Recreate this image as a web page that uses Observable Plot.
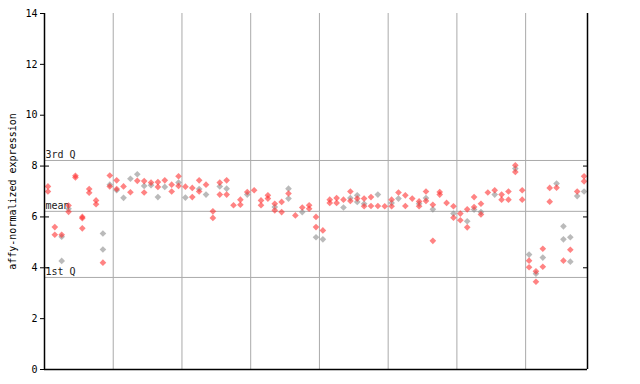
<!DOCTYPE html>
<html>
<head>
<meta charset="utf-8">
<script src="https://cdn.jsdelivr.net/npm/d3@7"></script>
<script src="https://cdn.jsdelivr.net/npm/@observablehq/plot@0.6"></script>
<style>
  html, body { margin: 0; padding: 0; background: #fff; }
  #chart svg { display: block; }
</style>
</head>
<body>
<div id="chart"></div>
<script>
// values per sample column (index = column)
const redValues = [
  [7.2, 7.0], [5.6, 5.3], [5.3], [6.45, 6.2], [7.62, 7.55], [6.0, 5.95, 5.55], [7.1, 6.95], [6.65, 6.5], [4.2], [7.63, 7.2],
  [7.44, 7.1], [7.2], [6.97], [7.42], [7.41, 6.96], [7.35], [7.37, 7.18], [7.44], [7.27, 7.0], [7.6, 7.22],
  [7.19], [7.14, 6.78], [7.44, 7.0], [7.27], [6.22, 5.96], [7.35, 6.88], [7.44, 6.88], [6.46], [6.68, 6.48], [6.98],
  [7.05], [6.65, 6.46], [6.85, 6.72], [6.52, 6.26], [6.59, 6.19], [6.92], [6.06], [6.37], [6.46, 6.32], [6.0, 5.6],
  [5.47], [6.68, 6.55], [6.74, 6.55], [6.68], [7.0, 6.63], [6.72], [6.72, 6.42], [6.78, 6.43], [6.43], [6.42],
  [6.68, 6.42], [6.96], [6.85, 6.43], [6.72], [6.61, 6.42], [7.0, 6.63], [6.48, 5.06], [6.98, 6.88], [6.55], [6.42, 5.97],
  [6.13, 5.87], [6.3, 5.59], [6.78, 6.39], [6.52, 6.1], [6.96], [7.05], [6.88, 6.68], [7.0, 6.68], [8.03, 7.77], [7.05, 6.68],
  [4.28, 4.02], [3.86, 3.45], [4.75, 4.04], [7.14, 6.6], [7.15], [4.28], [4.71], [7.0], [7.6, 7.4]
];
const grayValues = [
  [], [], [5.22, 4.27], [6.32], [], [], [], [], [5.35, 4.72], [7.27],
  [7.05], [6.75], [7.5], [7.68], [7.22], [7.25], [6.78], [7.18], [], [7.35],
  [6.76], [], [7.1], [6.88], [], [7.2], [7.11], [], [], [6.88],
  [], [], [], [6.39], [], [7.11, 6.72], [], [6.19], [], [5.2],
  [5.12], [], [], [6.37], [6.74], [6.85, 6.59], [6.52], [], [6.88], [],
  [6.55], [6.72], [], [], [6.52], [6.74], [6.3], [], [], [6.13],
  [], [5.83], [6.29], [6.19], [], [6.88], [], [], [7.9], [],
  [4.52], [3.77], [4.4], [], [7.31], [5.63, 5.12], [5.2, 4.24], [6.82], [7.0]
];
const groupBoundaries = [9.5, 19.5, 29.5, 39.5, 49.5, 59.5, 69.5];
const quartileValues = [8.22, 6.22, 3.62];
const quartileLabels = ["3rd Q", "mean", "1st Q"];
const yTicks = [0, 2, 4, 6, 8, 10, 12, 14];
const innerTicks = [4, 6, 8];
const yLabel = "affy-normalized expression";

const nCols = redValues.length;
const redData = redValues.flatMap((vs, i) => vs.map(v => ({col: i, value: v})));
const grayData = grayValues.flatMap((vs, i) => vs.map(v => ({col: i, value: v})));
const quartiles = quartileValues.map((v, i) => ({value: v, label: quartileLabels[i]}));
const xMin = -0.5, xMax = nCols - 0.5;

const font = "'DejaVu Sans Mono', monospace";

const chart = Plot.plot({
  width: 640,
  height: 384,
  marginLeft: 44,
  marginRight: 53,
  marginTop: 13,
  marginBottom: 15,
  style: {fontFamily: font, fontSize: "10px", color: "#000", background: "#fff"},
  x: {domain: [xMin, xMax], axis: null},
  y: {domain: [0, 14], axis: null},
  marks: [
    Plot.ruleX(groupBoundaries, {stroke: "#aaaaaa", strokeWidth: 1}),
    Plot.ruleY(quartiles, {y: "value", stroke: "#aaaaaa", strokeWidth: 1}),
    Plot.text(quartiles, {x: xMin, y: "value", text: "label", textAnchor: "start", dx: 1, dy: -6,
      fill: "#222", fontFamily: font, fontSize: 10, style: "letter-spacing:1px"}),
    Plot.dot(grayData, {x: "col", y: "value", symbol: "diamond2", r: 3, fill: "#8c8c8c", fillOpacity: 0.6, stroke: "none"}),
    Plot.dot(redData, {x: "col", y: "value", symbol: "diamond2", r: 3, fill: "#ff3030", fillOpacity: 0.6, stroke: "none"}),
    Plot.axisY({ticks: yTicks, tickSize: 4, tickPadding: 3, tickFormat: d => String(d), label: null,
      fontFamily: font, fontSize: 10, stroke: "#000", fill: "#000"}),
    Plot.axisY({ticks: innerTicks, anchor: "left", tickSize: -5, text: null, label: null, stroke: "#000"}),
    Plot.axisY({ticks: innerTicks, anchor: "right", tickSize: -5, text: null, label: null, stroke: "#000"}),
    Plot.ruleX([xMin, xMax], {stroke: "#000", strokeWidth: 1.5}),
    Plot.ruleY([0], {stroke: "#000", strokeWidth: 1.5}),
    Plot.text([yLabel], {frameAnchor: "left", textAnchor: "middle", dx: -32, rotate: -90, fontFamily: font, fontSize: 10,
      fill: "#000", style: "letter-spacing:1px"})
  ]
});
document.getElementById("chart").appendChild(chart);
</script>
</body>
</html>
